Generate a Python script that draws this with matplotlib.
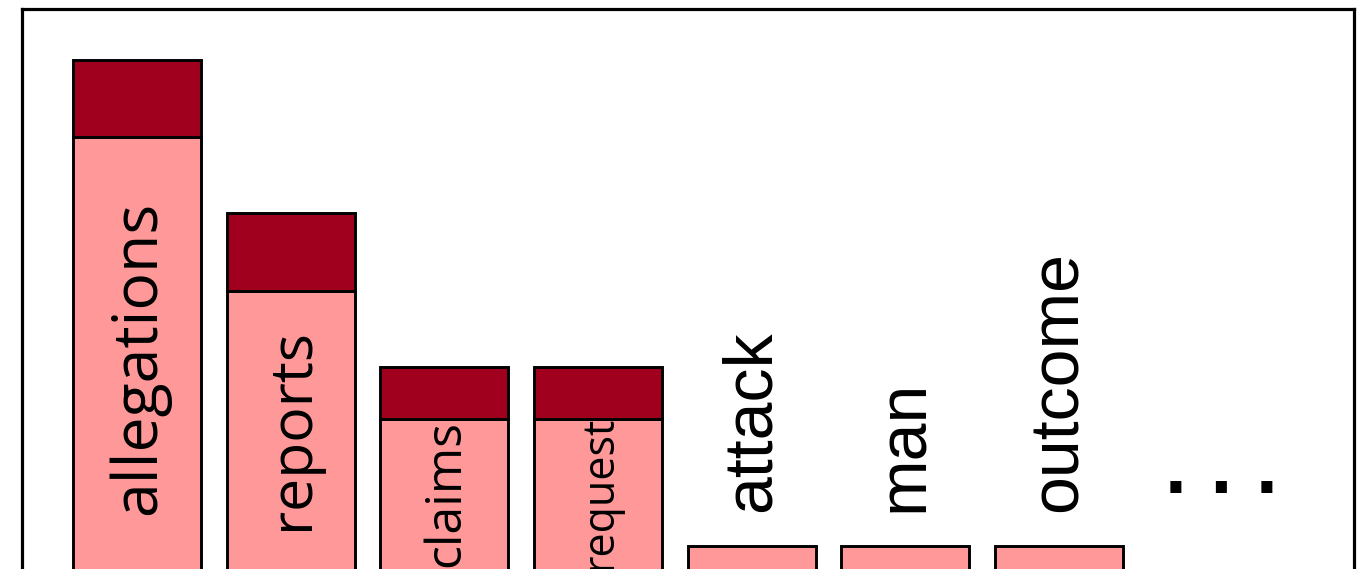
import matplotlib
matplotlib.use("Agg")
import matplotlib.pyplot as plt
from matplotlib import font_manager

# ---- data (arbitrary units) ----
words = ["allegations", "reports", "claims", "request", "attack", "man", "outcome"]
base_values = [463, 309, 181, 181, 54, 54, 54]     # light pink part
top_values = [77, 78, 52, 52, 0, 0, 0]             # dark red part
label_inside = [True, True, True, True, False, False, False]
label_start = [85, 70, 33, 30, 88, 88, 88]        # where each rotated label begins
label_sizes = [45, 42.5, 36, 31, None, None, None]

LIGHT = "#FF9999"
DARK = "#A0001E"

names = {f.name for f in font_manager.fontManager.ttflist}
if "Liberation Sans Narrow" in names:
    outer_font, outer_size = "Liberation Sans Narrow", 57
else:
    outer_font, outer_size = "Liberation Sans", 49
inner_font = "Open Sans"

W, H = 1369, 569
fig = plt.figure(figsize=(W / 100, H / 100), dpi=100)
left, right, top, bottom_px = 22, 1354, 9, 600
ax = fig.add_axes([left / W, (H - bottom_px) / H, (right - left) / W, (bottom_px - top) / H])

x = list(range(len(words)))
bw = 0.833
ax.bar(x, base_values, width=bw, color=LIGHT, edgecolor="black", linewidth=2.1, zorder=2)
tops = [(xi, t, b) for xi, t, b in zip(x, top_values, base_values) if t > 0]
ax.bar([t[0] for t in tops], [t[1] for t in tops], bottom=[t[2] for t in tops],
       width=bw, color=DARK, edgecolor="black", linewidth=2.1, zorder=2)

for xi, w, inside, ys, fs in zip(x, words, label_inside, label_start, label_sizes):
    if inside:
        ax.text(xi + 0.015, ys, w, rotation=90, rotation_mode="anchor", ha="left", va="center",
                fontsize=fs, family=inner_font, color="black", zorder=3, clip_on=True)
    else:
        ax.text(xi + 0.0, ys, w, rotation=90, rotation_mode="anchor", ha="left", va="center",
                fontsize=outer_size, family=outer_font, color="black", zorder=3)

ax.text(7.06, 124, ". . .", ha="center", va="center", fontsize=45,
        family="DejaVu Sans", fontweight="bold", color="black")

ax.set_xlim(-0.748, 7.92)
ax.set_ylim(0, bottom_px - top)
ax.set_xticks([])
ax.set_yticks([])
for s in ax.spines.values():
    s.set_linewidth(2.3)
    s.set_color("black")

fig.savefig("out.png", dpi=100)
